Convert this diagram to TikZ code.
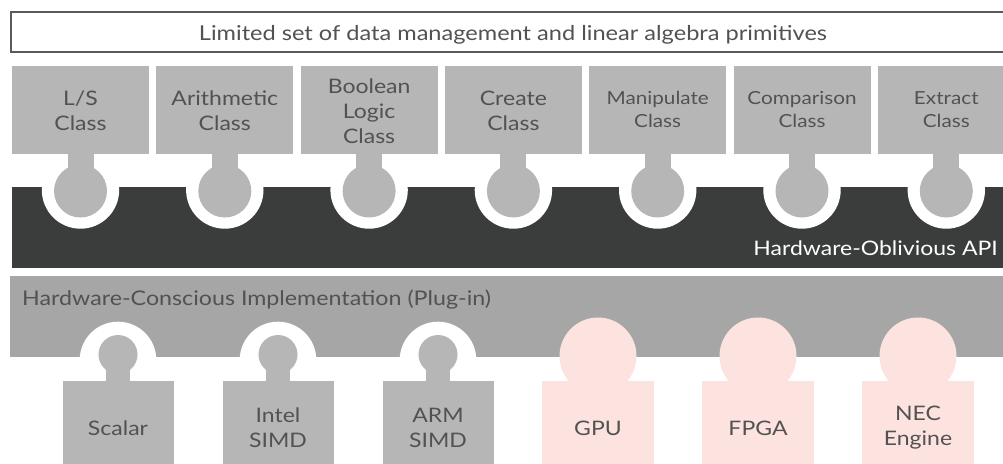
\documentclass[tikz,border=0pt]{standalone}
\usepackage{fontspec}
\setmainfont{Lato}[FakeStretch=1.15]
\definecolor{boxgray}{HTML}{B5B6B5}
\definecolor{darkband}{HTML}{3B3D3C}
\definecolor{lowband}{HTML}{A6A6A6}
\definecolor{pinkfill}{HTML}{FCE3DF}
\definecolor{txtgray}{HTML}{525252}
\definecolor{framegray}{HTML}{5A5A5A}
\tikzset{
  classbox/.style={fill=boxgray, draw=none},
  knob/.style={fill=boxgray, draw=none},
  hole/.style={fill=white, draw=none},
  pinkbox/.style={fill=pinkfill, draw=none},
  lbl/.style={text=txtgray, font=\fontsize{20}{25}\selectfont, align=center, inner sep=0pt},
  slbl/.style={text=txtgray, font=\fontsize{18}{23}\selectfont, align=center, inner sep=0pt},
}
\begin{document}
\begin{tikzpicture}[x=1pt,y=-1pt]
\useasboundingbox (0,0) rectangle (1003,463);
\clip (0,0) rectangle (1003,463);
% top box
\draw[framegray, line width=1.3pt, fill=white] (11,12) rectangle (1015,52);
\node[lbl, font=\fontsize{20.5}{24}\selectfont, anchor=base] (toptxt) at (513,40) {Limited set of data management and linear algebra primitives};
% dark band
\fill[darkband] (12,187) rectangle (1015,268);
% classes
\foreach \i/\name/\txt/\sty/\yy in {0/ls/{L/S\\Class}/lbl/111, 1/ar/{Arithmetic\\Class}/lbl/111, 2/bo/{Boolean\\Logic\\Class}/lbl/111, 3/cr/{Create\\Class}/lbl/111, 4/ma/{Manipulate\\Class}/slbl/109.5, 5/co/{Comparison\\Class}/slbl/109.5, 6/ex/{Extract\\Class}/slbl/109.5}{
  \pgfmathsetmacro{\cx}{80.5+144.3*\i}
  \fill[hole] (\cx,190) circle[radius=38.7];
  \fill[classbox] (\cx-68.5,66) rectangle (\cx+68.5,154);
  \fill[knob] (\cx-13,150) rectangle (\cx+13,192);
  \fill[knob] (\cx,191) circle[radius=26.5];
  \node[\sty] (\name) at (\cx,\yy) {\txt};
}
\node[text=white, font=\fontsize{20}{24}\selectfont, anchor=base east, inner sep=0pt] (api) at (998,255) {Hardware-Oblivious API};
% lower band
\fill[lowband] (10,276) rectangle (1015,357);
\node[text=txtgray, font=\fontsize{20.2}{24}\selectfont, anchor=base west, inner sep=0pt] (impl) at (22,305) {Hardware-Conscious Implementation (Plug-in)};
% gray plugins
\foreach \cx/\name/\txt in {118/sc/{Scalar}, 278/in/{Intel\\SIMD}, 438/arm/{ARM\\SIMD}}{
  \fill[hole] (\cx,360) circle[radius=38.3];
  \fill[knob] (\cx,354.5) circle[radius=19.5];
  \fill[knob] (\cx-12,350) rectangle (\cx+12,382);
  \fill[classbox] (\cx-55.5,381) rectangle (\cx+55.5,480);
  \node[lbl] (\name) at (\cx,428) {\txt};
}
% pink plugins
\foreach \cx/\name/\txt in {598/gpu/{GPU}, 758/fpga/{FPGA}, 918/nec/{NEC\\Engine}}{
  \fill[pinkfill] (\cx,356) circle[radius=38.5];
  \fill[pinkbox] (\cx-56,381) rectangle (\cx+56,480);
  \node[lbl] (\name) at (\cx,428) {\txt};
}
\end{tikzpicture}
\end{document}
